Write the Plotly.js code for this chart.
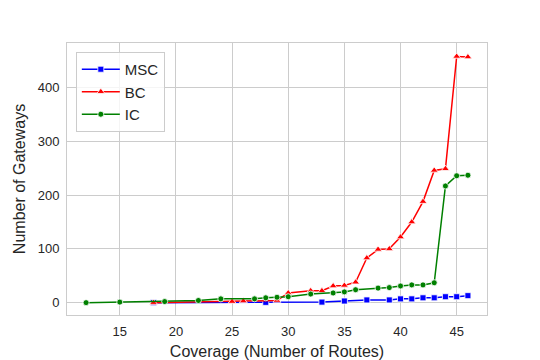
<!DOCTYPE html>
<html>
<head>
<meta charset="utf-8">
<script src="https://cdn.plot.ly/plotly-3.0.1.min.js"></script>
<style>html,body{margin:0;padding:0;background:#fff;}#chart{width:540px;height:360px;}</style>
</head>
<body>
<div id="chart"></div>
<script>
const mscX = [18, 28, 33, 35, 37, 39, 40, 41, 42, 43, 44, 45, 46];
const mscY = [0, 0.5, 1, 3, 5, 5, 7, 7, 9, 9, 11, 11, 13];

const bcX = [18, 25, 26, 29, 30, 32, 33, 34, 35, 36, 37, 38, 39, 40, 41, 42, 43, 44, 45, 46];
const bcY = [0, 2, 3, 4, 18, 22, 22, 31, 32, 38, 83, 99, 100, 122, 150, 188, 246, 249, 458, 457];

const icX = [12, 15, 19, 22, 24, 27, 28, 29, 30, 32, 34, 35, 36, 38, 39, 40, 41, 42, 43, 44, 45, 46];
const icY = [0, 1, 2, 4, 7, 7, 9, 10, 11, 16, 18, 20, 24, 27, 28, 31, 33, 33, 37, 217, 236, 237];

const xTicks = [15, 20, 25, 30, 35, 40, 45];
const yTicks = [0, 100, 200, 300, 400];

function series(name, x, y, color, symbol, size) {
  return {
    x: x, y: y, name: name, type: 'scatter', mode: 'lines+markers',
    line: {color: color, width: 1.5},
    marker: {color: color, symbol: symbol, size: size, line: {color: '#ffffff', width: 0.8}}
  };
}

const data = [
  series('MSC', mscX, mscY, '#0000ff', 'square', 6),
  series('BC', bcX, bcY, '#ff0000', 'triangle-up', 7),
  series('IC', icX, icY, '#008000', 'circle', 6)
];

const FONT = 'Liberation Sans, Arial, sans-serif';

const axisCommon = {
  showgrid: true, gridcolor: '#cccccc', gridwidth: 1,
  showline: true, linecolor: '#cccccc', linewidth: 1, mirror: true,
  zeroline: false, ticks: '', ticklabelstandoff: 4,
  tickfont: {family: FONT, size: 13, color: '#262626'}
};

const layout = {
  width: 540, height: 360,
  margin: {l: 67, r: 53, t: 43, b: 45},
  paper_bgcolor: '#ffffff', plot_bgcolor: '#ffffff',
  showlegend: true,
  xaxis: Object.assign({}, axisCommon, {
    range: [10.3, 47.7], tickvals: xTicks, ticktext: xTicks.map(String),
    title: {text: 'Coverage (Number of Routes)', standoff: 8,
            font: {family: FONT, size: 16, color: '#262626'}}
  }),
  yaxis: Object.assign({}, axisCommon, {
    range: [-23, 483], tickvals: yTicks, ticktext: yTicks.map(String),
    title: {text: 'Number of Gateways', standoff: 8,
            font: {family: FONT, size: 16, color: '#262626'}}
  }),
  legend: {
    x: 0.021, y: 0.967, xanchor: 'left', yanchor: 'top',
    bgcolor: 'rgba(255,255,255,0.8)', bordercolor: '#cccccc', borderwidth: 1,
    font: {family: FONT, size: 15, color: '#262626'},
    itemwidth: 38, tracegroupgap: 0
  }
};

Plotly.newPlot('chart', data, layout, {displayModeBar: false, staticPlot: true});
</script>
</body>
</html>
